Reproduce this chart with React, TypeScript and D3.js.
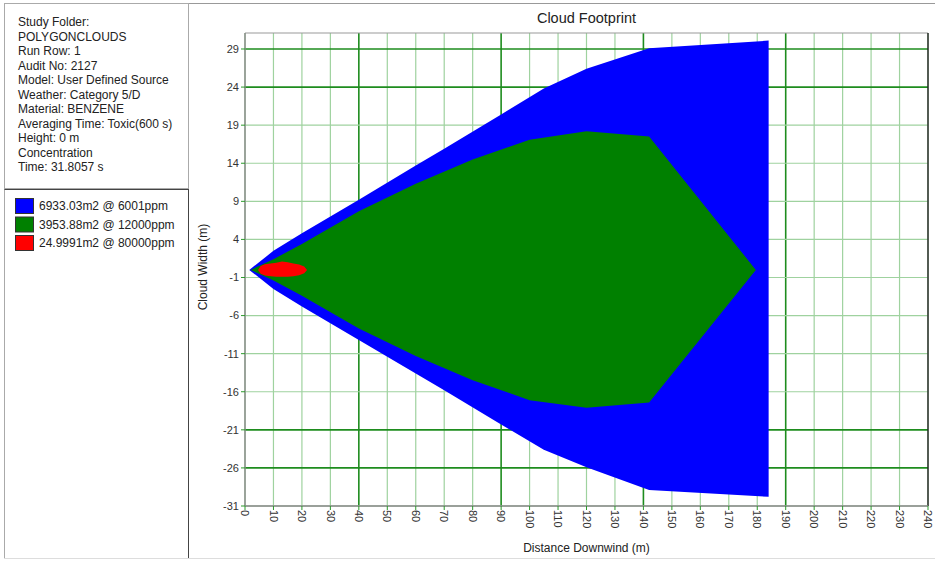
import React from "react";
import * as d3 from "d3";

// info panel lines
const infoLines = [
  "Study Folder:",
  "POLYGONCLOUDS",
  "Run Row: 1",
  "Audit No: 2127",
  "Model: User Defined Source",
  "Weather: Category 5/D",
  "Material: BENZENE",
  "Averaging Time: Toxic(600 s)",
  "Height: 0 m",
  "Concentration",
  "Time: 31.8057 s",
];

const legendLabels = ["6933.03m2 @ 6001ppm", "3953.88m2 @ 12000ppm", "24.9991m2 @ 80000ppm"];
const legendColors = ["#0000ff", "#008000", "#ff0000"];

// x ticks 0..240 step 10, y ticks -31..29 step 5
const xTicks = d3.range(0, 241, 10);
const yTicks = d3.range(-31, 30, 5);
const darkX = [40, 90, 140, 190];
const darkY = [29, 24, -21, -26];

// 6001 ppm contour
const blueX = [1.5, 10, 20, 40, 60, 70, 90, 105, 120, 142, 184];
const blueUpper = [0, 2.5, 4.8, 9.2, 13.7, 15.9, 20.4, 23.8, 26.4, 29.1, 30.1];
const blueLower = [0, -2.5, -4.8, -9.2, -13.6, -15.8, -20.3, -23.6, -25.9, -28.9, -29.8];

// 12000 ppm contour
const greenX = [2, 10, 20, 40, 60, 80, 100, 120, 142, 179.5];
const greenUpper = [0, 1.4, 3.4, 7.7, 11.3, 14.5, 17.1, 18.2, 17.5, 0];
const greenLower = [0, -1.4, -3.4, -7.7, -11.3, -14.5, -17.1, -18.1, -17.4, 0];

// 80000 ppm contour
const redX = [4.6, 5.5, 7, 9, 11, 13, 15, 17, 19, 20.8, 21.8];
const redUpper = [0, 0.5, 0.75, 0.85, 0.95, 1.1, 1.0, 0.85, 0.7, 0.45, 0];
const redLower = [0, -0.5, -0.75, -0.85, -0.9, -0.9, -0.9, -0.85, -0.7, -0.45, 0];

const W = 935;
const H = 562;
const plot = { left: 245, right: 928, top: 33, bottom: 506 };

const x = d3.scaleLinear().domain([0, 240]).range([plot.left, plot.right]);
const y = d3.scaleLinear().domain([-31, 31.1]).range([plot.bottom, plot.top]);

const outline = (xs: number[], up: number[], lo: number[]) => {
  const pts: [number, number][] = xs.map((v, i) => [v, up[i]]);
  for (let i = xs.length - 1; i >= 0; i--) pts.push([xs[i], lo[i]]);
  return d3
    .line<[number, number]>()
    .x((d) => x(d[0]))
    .y((d) => y(d[1]))
    .curve(d3.curveLinearClosed)(pts) as string;
};

const font = "'Liberation Sans', Arial, sans-serif";

export default function App() {
  return (
    <svg
      width={W}
      height={H}
      style={{ position: "absolute", left: 0, top: 0, background: "#fff" }}
      fontFamily={font}
    >
      <rect x={0} y={0} width={W} height={H} fill="#fff" />
      {/* outer frame */}
      <line x1={4} x2={W} y1={3.5} y2={3.5} stroke="#999" />
      <line x1={4} x2={W} y1={558.5} y2={558.5} stroke="#ddd" />

      {/* info box */}
      <rect x={4.5} y={3.5} width={184} height={185} fill="none" stroke="#aaa" />
      {infoLines.map((t, i) => (
        <text key={i} x={18} y={26 + i * 14.5} fontSize={12} fill="#222">
          {t}
        </text>
      ))}

      {/* legend box */}
      <line x1={4.5} x2={4.5} y1={189} y2={558} stroke="#aaa" />
      <line x1={188.5} x2={188.5} y1={189} y2={558} stroke="#444" />
      <line x1={4.5} x2={188.5} y1={189.5} y2={189.5} stroke="#444" />
      {legendLabels.map((t, i) => (
        <g key={i} transform={`translate(0, ${198 + i * 18.5})`}>
          <rect x={15.5} y={0.5} width={18} height={15} fill={legendColors[i]} stroke="#333" />
          <text x={39} y={12} fontSize={12} fill="#222">
            {t}
          </text>
        </g>
      ))}

      {/* title */}
      <text x={(plot.left + plot.right) / 2} y={23} fontSize={14.5} textAnchor="middle" fill="#222">
        Cloud Footprint
      </text>

      {/* grid */}
      {xTicks.map((v) => (
        <line
          key={"gx" + v}
          x1={x(v)}
          x2={x(v)}
          y1={plot.top}
          y2={plot.bottom}
          stroke={darkX.includes(v) ? "#1e8c1e" : "#9fd29f"}
          strokeWidth={darkX.includes(v) ? 1.6 : 1.2}
        />
      ))}
      {yTicks.map((v) => (
        <line
          key={"gy" + v}
          x1={plot.left}
          x2={plot.right}
          y1={y(v)}
          y2={y(v)}
          stroke={darkY.includes(v) ? "#1e8c1e" : "#9fd29f"}
          strokeWidth={darkY.includes(v) ? 1.6 : 1.2}
        />
      ))}

      {/* clouds */}
      <path d={outline(blueX, blueUpper, blueLower)} fill="#0000ff" />
      <path d={outline(greenX, greenUpper, greenLower)} fill="#008000" />
      <path d={outline(redX, redUpper, redLower)} fill="#ff0000" />

      {/* plot border */}
      <line x1={plot.left} x2={plot.right} y1={plot.top} y2={plot.top} stroke="#999" strokeWidth={1.2} />
      <line x1={plot.right} x2={plot.right} y1={plot.top} y2={plot.bottom} stroke="#222" strokeWidth={1.4} />
      <line x1={plot.left} x2={plot.left} y1={plot.top} y2={plot.bottom} stroke="#888" strokeWidth={1.4} />
      <line x1={plot.left} x2={plot.right} y1={plot.bottom} y2={plot.bottom} stroke="#888" strokeWidth={1.4} />

      {/* y ticks */}
      {yTicks.map((v) => (
        <g key={"ty" + v}>
          <line x1={plot.left - 4} x2={plot.left} y1={y(v)} y2={y(v)} stroke="#2a9a2a" />
          <text
            x={plot.left - 6}
            y={y(v)}
            dy="0.35em"
            fontSize={11}
            textAnchor="end"
            fill="#333"
          >
            {v}
          </text>
        </g>
      ))}

      {/* x ticks */}
      {xTicks.map((v) => (
        <g key={"tx" + v}>
          <line x1={x(v)} x2={x(v)} y1={plot.bottom} y2={plot.bottom + 4} stroke="#2a9a2a" />
          <text
            transform={`translate(${x(v)}, ${plot.bottom + 4}) rotate(90)`}
            dy="0.35em"
            fontSize={11}
            fill="#333"
          >
            {v}
          </text>
        </g>
      ))}

      {/* axis labels */}
      <text x={(plot.left + plot.right) / 2} y={552} fontSize={12} textAnchor="middle" fill="#222">
        Distance Downwind (m)
      </text>
      <text
        transform={`translate(207, 267) rotate(-90)`}
        fontSize={12}
        textAnchor="middle"
        fill="#222"
      >
        Cloud Width (m)
      </text>
    </svg>
  );
}
